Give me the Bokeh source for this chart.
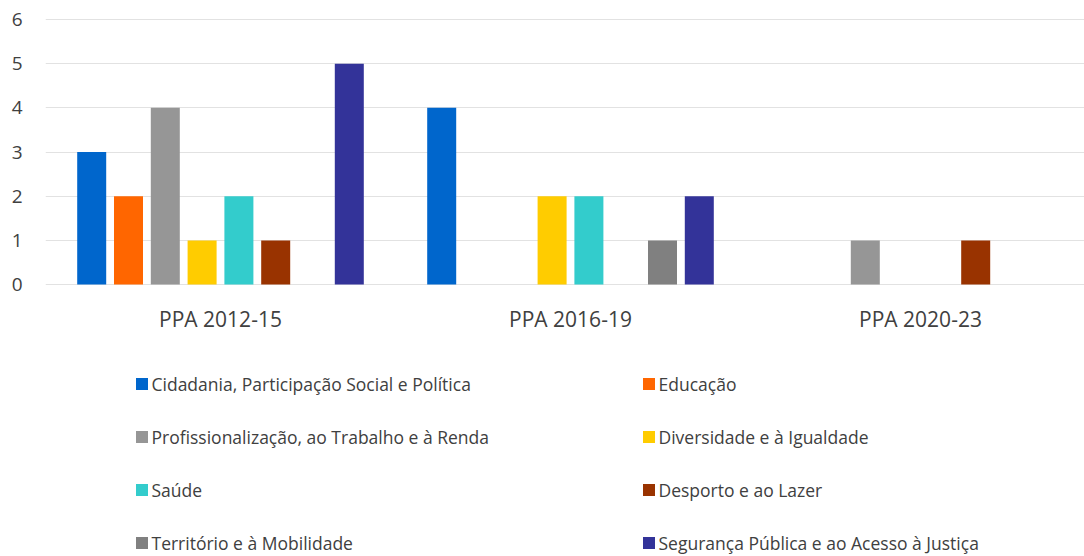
from bokeh.plotting import figure
from bokeh.models import Legend, LegendItem, FixedTicker, ColumnDataSource, Range1d
from bokeh.core.properties import value
from bokeh.transform import dodge
from bokeh.embed import file_html
from bokeh.resources import INLINE

groups = ["PPA 2012-15", "PPA 2016-19", "PPA 2020-23"]
series = [
    "Cidadania, Participação Social e Política",
    "Educação",
    "Profissionalização, ao Trabalho e à Renda",
    "Diversidade e à Igualdade",
    "Saúde",
    "Desporto e ao Lazer",
    "Território e à Mobilidade",
    "Segurança Pública e ao Acesso à Justiça",
]
colors = ["#0066CC", "#FF6600", "#969696", "#FFCC00", "#33CCCC", "#993300", "#808080", "#333399"]

cidadania = [3, 4, 0]
educacao = [2, 0, 0]
profissionalizacao = [4, 0, 1]
diversidade = [1, 2, 0]
saude = [2, 2, 0]
desporto = [1, 0, 1]
territorio = [0, 1, 0]
seguranca = [5, 2, 0]
values = [cidadania, educacao, profissionalizacao, diversidade, saude, desporto, territorio, seguranca]

y_ticks = [0, 1, 2, 3, 4, 5, 6]

FONT = "Open Sans"
TXT = "#404040"

W, H = 1084, 556
LEFT, TOP = 45, 18
PPU = (284.1 - 19.0) / 6.0          # pixels per unit on the value axis
GROUP_PX = 350.0                    # pixels per category group
FIRST_CENTER = 220.0                # page x of first group center

data = {"x": list(range(len(groups))), "label": groups}
for i, v in enumerate(values):
    data["s%d" % i] = v
src = ColumnDataSource(data)

y_top = 6 + (19.0 - TOP) / PPU
y_bot = -(H - 284.1) / PPU
x_start = -(FIRST_CENTER - LEFT) / GROUP_PX
x_end = (W - FIRST_CENTER) / GROUP_PX

p = figure(width=W, height=H, x_range=Range1d(x_start, x_end), y_range=Range1d(y_bot, y_top),
           output_backend="svg", toolbar_location=None,
           min_border_left=LEFT, min_border_right=0, min_border_top=TOP, min_border_bottom=0)
p.outline_line_color = None
p.background_fill_color = "white"
p.border_fill_color = "white"

step = 36.8 / GROUP_PX
bw = 29.0 / GROUP_PX
renderers = []
for i in range(len(series)):
    r = p.vbar(x=dodge("x", (i - 3.5) * step), top="s%d" % i, width=bw, bottom=0,
               source=src, fill_color=colors[i], line_color=None)
    renderers.append(r)

# category labels under the value-axis origin
p.text(x="x", y=0, text="label", source=src, y_offset=34, text_align="center",
       text_baseline="middle", text_font=value(FONT), text_font_size="21px", text_color=TXT)

p.xgrid.visible = False
p.xaxis.visible = False
p.ygrid.ticker = FixedTicker(ticks=y_ticks)
p.ygrid.grid_line_color = "#E2E2E2"
p.ygrid.grid_line_width = 1.2

p.yaxis.ticker = FixedTicker(ticks=y_ticks)
p.yaxis.axis_line_color = None
p.yaxis.major_tick_line_color = None
p.yaxis.minor_tick_line_color = None
p.yaxis.major_tick_out = 0
p.yaxis.major_tick_in = 0
p.yaxis.minor_tick_out = 0
p.yaxis.major_label_text_font = FONT
p.yaxis.major_label_text_color = TXT
p.yaxis.major_label_text_font_size = "19px"
p.yaxis.major_label_standoff = 23

def make_legend(idx, vx):
    items = [LegendItem(label=series[i], renderers=[renderers[i]]) for i in idx]
    leg = Legend(items=items, location=(vx, 1), orientation="vertical",
                 padding=0, margin=0, border_line_color=None, background_fill_alpha=0,
                 glyph_width=15, glyph_height=15, label_standoff=3, spacing=28,
                 label_height=25, label_text_font=FONT, label_text_font_size="17.5px",
                 label_text_color=TXT)
    return leg

p.add_layout(make_legend([0, 2, 4, 6], 133.5 - LEFT))
p.add_layout(make_legend([1, 3, 5, 7], 640.5 - LEFT))

open("out.html", "w").write(file_html(p, INLINE))
